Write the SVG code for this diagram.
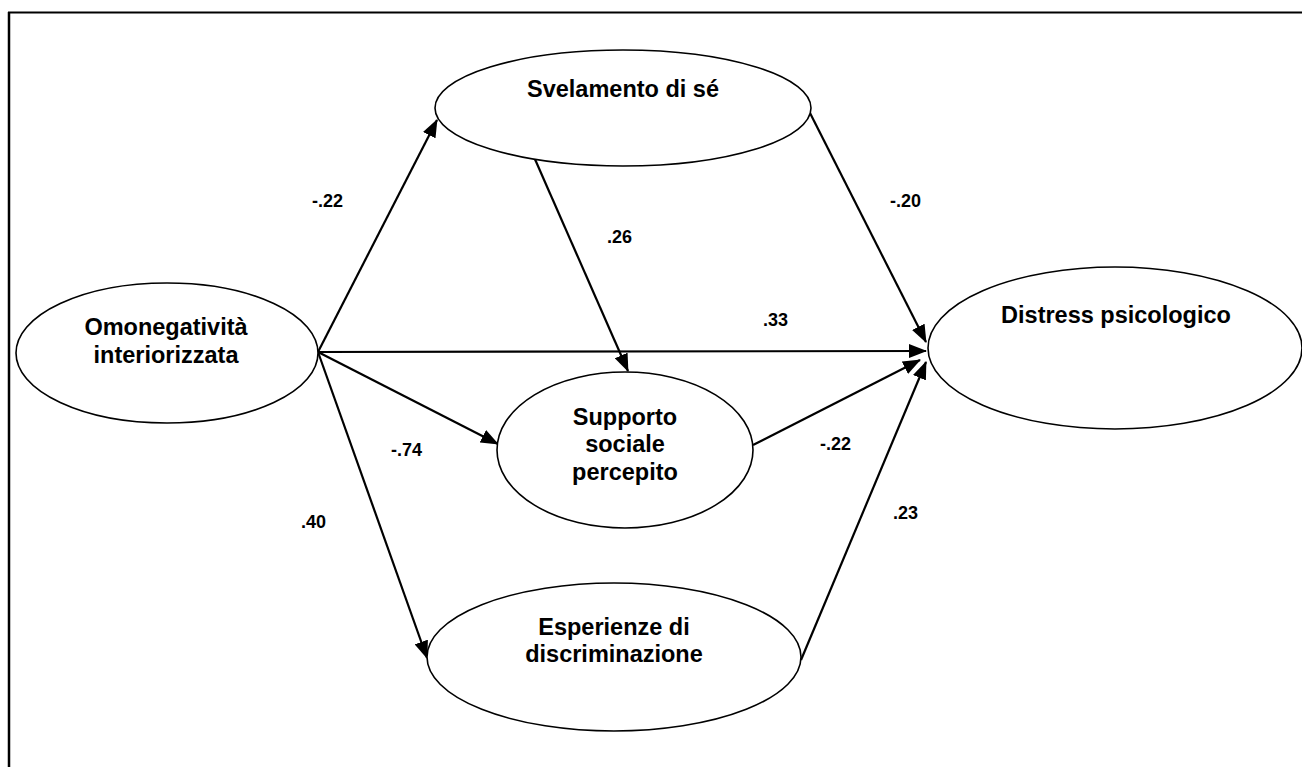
<svg xmlns="http://www.w3.org/2000/svg" width="1302" height="767" viewBox="0 0 1302 767">
  <style>
    .node { fill: #ffffff; stroke: #000000; stroke-width: 1.6; }
    .label { font-family: "Liberation Sans", Arial, sans-serif; font-weight: bold; font-size: 23.5px; fill: #000000; text-anchor: middle; }
    .coef { font-family: "Liberation Sans", Arial, sans-serif; font-weight: bold; font-size: 18px; fill: #000000; }
    .edge { stroke: #000000; stroke-width: 2.2; fill: none; marker-end: url(#arrow); }
    .frame { stroke: #000000; fill: none; }
  </style>
  <defs>
    <marker id="arrow" markerUnits="userSpaceOnUse" markerWidth="18" markerHeight="14" viewBox="0 0 18 14" refX="17" refY="7" orient="auto">
      <path d="M0,0 L18,7 L0,14 Z" fill="#000000"/>
    </marker>
  </defs>

  <rect width="1302" height="767" fill="#ffffff"/>

  <!-- page frame: top and left rules -->
  <g id="frame">
    <line class="frame" x1="8" y1="12.5" x2="1302" y2="12.5" stroke-width="2"/>
    <line class="frame" x1="9" y1="12" x2="9" y2="767" stroke-width="2.5"/>
  </g>

  <!-- path connectors -->
  <g id="connectors">
    <line class="edge" x1="318" y1="352" x2="437" y2="120"/>
    <line class="edge" x1="318" y1="352" x2="926" y2="351"/>
    <line class="edge" x1="318" y1="352" x2="498" y2="444"/>
    <line class="edge" x1="318" y1="352" x2="427" y2="658"/>
    <line class="edge" x1="534" y1="157" x2="628" y2="371"/>
    <line class="edge" x1="810" y1="113" x2="926" y2="342"/>
    <line class="edge" x1="753" y1="445" x2="920" y2="360"/>
    <line class="edge" x1="801" y1="660" x2="926" y2="362"/>
  </g>

  <!-- path coefficients -->
  <g id="coefficients">
    <text class="coef" x="312" y="207">-.22</text>
    <text class="coef" x="607" y="243">.26</text>
    <text class="coef" x="763" y="326">.33</text>
    <text class="coef" x="890" y="207">-.20</text>
    <text class="coef" x="391" y="456">-.74</text>
    <text class="coef" x="301" y="528">.40</text>
    <text class="coef" x="820" y="450">-.22</text>
    <text class="coef" x="893" y="519">.23</text>
  </g>

  <g id="omonegativita">
    <ellipse class="node" cx="167" cy="353" rx="151" ry="70"/>
    <text class="label" x="166" y="335">Omonegatività</text>
    <text class="label" x="166" y="363">interiorizzata</text>
  </g>

  <g id="svelamento">
    <ellipse class="node" cx="623" cy="108" rx="188" ry="58"/>
    <text class="label" x="623" y="97">Svelamento di sé</text>
  </g>

  <g id="supporto">
    <ellipse class="node" cx="625" cy="450" rx="128" ry="78"/>
    <text class="label" x="625" y="425">Supporto</text>
    <text class="label" x="625" y="452">sociale</text>
    <text class="label" x="625" y="480">percepito</text>
  </g>

  <g id="esperienze">
    <ellipse class="node" cx="614" cy="657" rx="187" ry="74"/>
    <text class="label" x="614" y="635">Esperienze di</text>
    <text class="label" x="614" y="662">discriminazione</text>
  </g>

  <g id="distress">
    <ellipse class="node" cx="1115" cy="348" rx="187" ry="81"/>
    <text class="label" x="1116" y="323">Distress psicologico</text>
  </g>
</svg>
